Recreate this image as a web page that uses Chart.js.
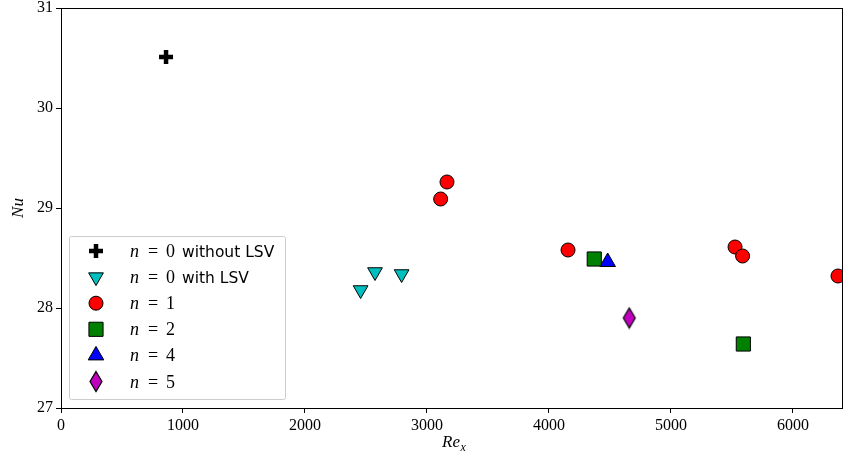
<!DOCTYPE html>
<html>
<head>
<meta charset="utf-8">
<script src="https://cdn.jsdelivr.net/npm/chart.js@4/dist/chart.umd.min.js"></script>
<style>
  body { margin: 0; background: #fff; }
  #wrap { width: 843px; height: 454px; }
</style>
</head>
<body>
<div id="wrap"><canvas id="nuChart" width="843" height="454"></canvas></div>
<script>
// values
const plusX = [861];
const plusY = [30.51];
const lsvX = [2456, 2574, 2792];
const lsvY = [28.18, 28.36, 28.34];
const n1X = [3112, 3164, 4156, 5525, 5587, 6369];
const n1Y = [29.09, 29.26, 28.58, 28.61, 28.52, 28.32];
const n2X = [4371, 5593];
const n2Y = [28.49, 27.64];
const n4X = [4481];
const n4Y = [28.46];
const n5X = [4658];
const n5Y = [27.90];

const seriesNames = ['n = 0 without LSV', 'n = 0 with LSV', 'n = 1', 'n = 2', 'n = 4', 'n = 5'];
const xTicks = [0, 1000, 2000, 3000, 4000, 5000, 6000];
const yTicks = [27, 28, 29, 30, 31];

function toPoints(xs, ys) {
    return xs.map((x, i) => ({ x: x, y: ys[i] }));
}

// thin diamond marker like matplotlib 'd'
function diamondImg() {
    const c = document.createElement('canvas');
    c.width = 16; c.height = 23;
    const g = c.getContext('2d');
    g.beginPath();
    g.moveTo(8, 1.5); g.lineTo(14, 11.5); g.lineTo(8, 21.5); g.lineTo(2, 11.5); g.closePath();
    g.fillStyle = '#bf00bf';
    g.fill();
    g.lineWidth = 1.2;
    g.strokeStyle = '#000';
    g.stroke();
    return c;
}
const diamond = diamondImg();

const datasets = [
    { label: seriesNames[0], data: toPoints(plusX, plusY), pointStyle: 'cross', pointRadius: 7,
      borderColor: '#000', backgroundColor: '#000', pointBorderWidth: 4.5 },
    { label: seriesNames[1], data: toPoints(lsvX, lsvY), pointStyle: 'triangle', pointRotation: 180, pointRadius: 8.5,
      borderColor: '#000', backgroundColor: '#00bfbf', pointBorderWidth: 1 },
    { label: seriesNames[2], data: toPoints(n1X, n1Y), pointStyle: 'circle', pointRadius: 7,
      borderColor: '#000', backgroundColor: '#ff0000', pointBorderWidth: 1 },
    { label: seriesNames[3], data: toPoints(n2X, n2Y), pointStyle: 'rect', pointRadius: 10,
      borderColor: '#000', backgroundColor: '#008000', pointBorderWidth: 1 },
    { label: seriesNames[4], data: toPoints(n4X, n4Y), pointStyle: 'triangle', pointRadius: 9,
      borderColor: '#000', backgroundColor: '#0000ff', pointBorderWidth: 1 },
    { label: seriesNames[5], data: toPoints(n5X, n5Y), pointStyle: diamond, pointRadius: 10,
      borderColor: '#000', backgroundColor: '#bf00bf', pointBorderWidth: 1 }
];

const serif = '"Liberation Serif", "DejaVu Serif", serif';
const sans = '"DejaVu Sans", "Liberation Sans", sans-serif';

const extras = {
    id: 'extras',
    afterDraw(chart) {
        const ctx = chart.ctx;
        const a = chart.chartArea;
        ctx.save();
        // frame
        ctx.strokeStyle = '#000';
        ctx.lineWidth = 1;
        ctx.strokeRect(a.left + 0.5, a.top + 0.5, a.right - a.left - 1, a.bottom - a.top);

        // axis titles
        ctx.fillStyle = '#000';
        ctx.textBaseline = 'alphabetic';
        ctx.font = 'italic 17px ' + serif;
        const reW = ctx.measureText('Re').width;
        const cx = 451;
        ctx.fillText('Re', cx - reW / 2, 447);
        ctx.font = 'italic 12px ' + serif;
        ctx.fillText('x', cx + reW / 2 + 0.5, 451);

        ctx.save();
        ctx.translate(23, 208);
        ctx.rotate(-Math.PI / 2);
        ctx.font = 'italic 17px ' + serif;
        ctx.textAlign = 'center';
        ctx.fillText('Nu', 0, 0);
        ctx.restore();

        // legend box
        const lx = 69, ly = 236, lw = 216, lh = 163;
        ctx.fillStyle = 'rgba(255,255,255,0.85)';
        ctx.strokeStyle = '#cccccc';
        ctx.beginPath();
        ctx.roundRect(lx + 0.5, ly + 0.5, lw, lh, 2);
        ctx.fill();
        ctx.stroke();

        chart.data.datasets.forEach((ds, i) => {
            const y = 251 + i * 26.1;
            ctx.save();
            ctx.fillStyle = ds.backgroundColor;
            ctx.strokeStyle = ds.borderColor;
            ctx.lineWidth = ds.pointBorderWidth;
            Chart.helpers.drawPoint(ctx, {
                pointStyle: ds.pointStyle,
                rotation: ds.pointRotation || 0,
                radius: ds.pointRadius,
                borderWidth: ds.pointBorderWidth
            }, 96, y);
            ctx.restore();

            // label: italic n, serif "= k", sans remainder
            const m = ds.label.match(/^n = (\d)(.*)$/);
            const base = y + 6;
            ctx.fillStyle = '#000';
            ctx.font = 'italic 18px ' + serif;
            ctx.fillText('n', 130, base);
            ctx.font = '18px ' + serif;
            ctx.fillText('=', 148, base);
            ctx.fillText(m[1], 166, base);
            if (m[2]) {
                ctx.font = '15.5px ' + sans;
                ctx.fillText(m[2].trim(), 182, base);
            }
        });
        ctx.restore();
    }
};

new Chart(document.getElementById('nuChart').getContext('2d'), {
    type: 'scatter',
    data: { datasets: datasets },
    plugins: [extras],
    options: {
        responsive: false,
        animation: false,
        events: [],
        layout: { autoPadding: false, padding: { top: 8, right: 0, left: 0, bottom: 0 } },
        plugins: { legend: { display: false }, tooltip: { enabled: false } },
        scales: {
            x: {
                type: 'linear',
                min: 0,
                max: 6410,
                afterBuildTicks: s => { s.ticks = xTicks.map(v => ({ value: v })); },
                afterFit: s => { s.height = 46; s.paddingLeft = 0; s.paddingRight = 0; },
                ticks: { color: '#000', font: { family: serif, size: 16 }, padding: 3, maxRotation: 0,
                         callback: v => String(v) },
                grid: { drawOnChartArea: false, color: '#000', tickLength: 5, tickWidth: 1 },
                border: { color: '#000', width: 1 }
            },
            y: {
                type: 'linear',
                min: 27,
                max: 31,
                afterBuildTicks: s => { s.ticks = yTicks.map(v => ({ value: v })); },
                afterFit: s => { s.width = 61; s.paddingTop = 0; s.paddingBottom = 0; },
                ticks: { color: '#000', font: { family: serif, size: 16, lineHeight: 1 }, padding: 3,
                         callback: v => String(v) },
                grid: { drawOnChartArea: false, color: '#000', tickLength: 5, tickWidth: 1 },
                border: { color: '#000', width: 1 }
            }
        }
    }
});
</script>
</body>
</html>
